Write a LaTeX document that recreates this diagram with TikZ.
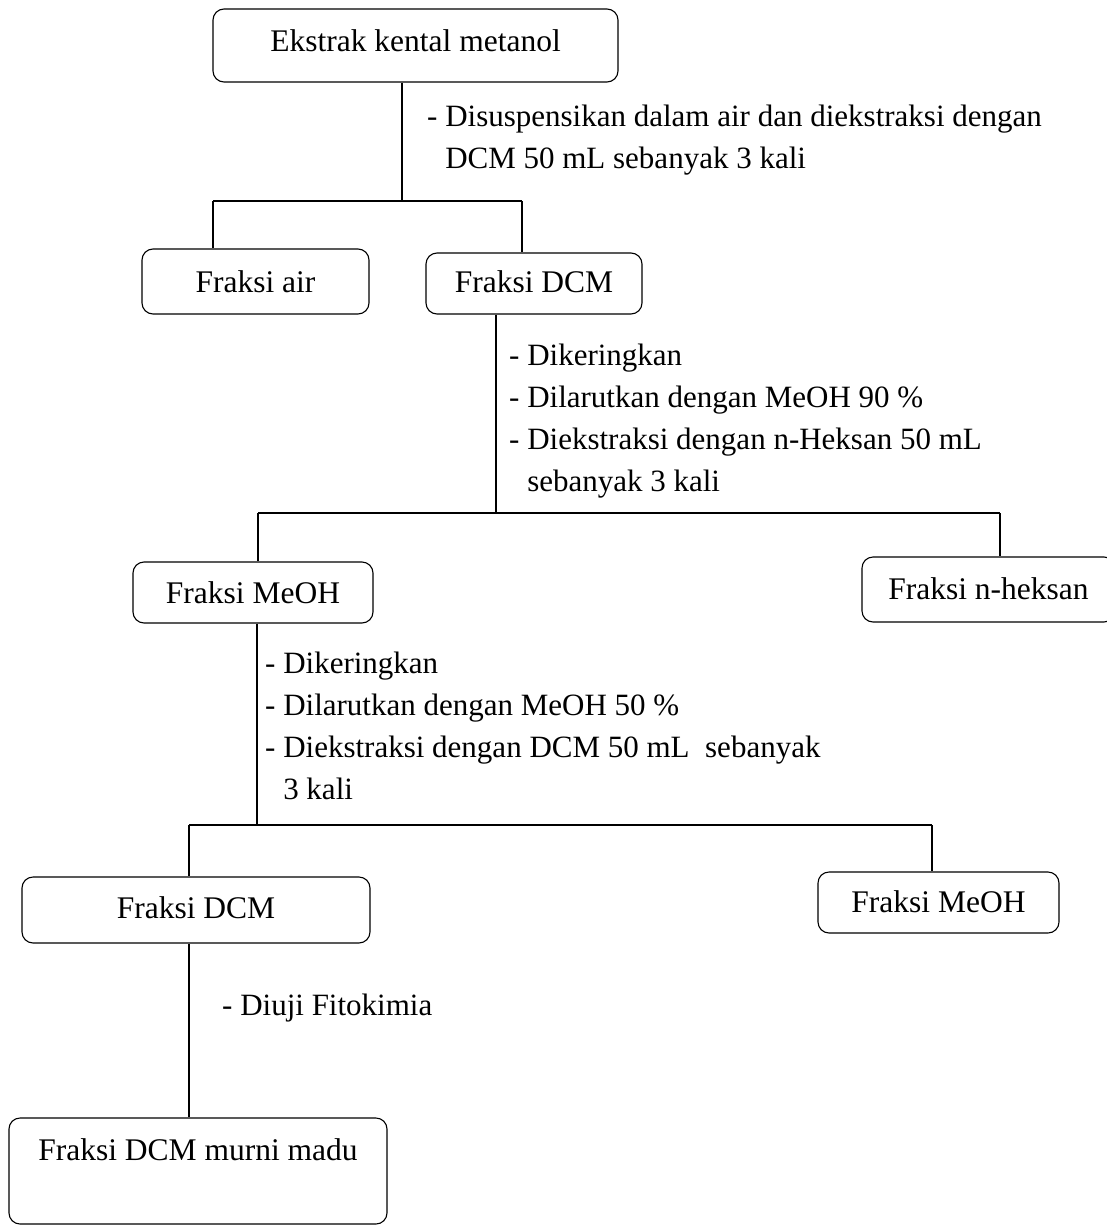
\documentclass[tikz,border=0pt]{standalone}
\usepackage{fontspec}
\setmainfont{Liberation Serif}
\begin{document}
\begin{tikzpicture}[x=1pt,y=-1pt,
  box/.style={draw, line width=1.1pt, rounded corners=11pt, inner sep=0pt, font=\fontsize{31.5}{42}\selectfont},
  lbl/.style={anchor=base west, inner sep=0pt, font=\fontsize{31}{42}\selectfont},
  conn/.style={line width=1.3pt}]
\clip (0,0) rectangle (1107,1226);
% boxes
\node[box, minimum width=405pt, minimum height=73pt, text height=11pt, text depth=0pt] (ekstrak) at (415.5,45.5) {Ekstrak kental metanol};
\node[box, minimum width=227pt, minimum height=65pt, text height=21pt, text depth=0pt] (air) at (255.5,281.5) {Fraksi air};
\node[box, minimum width=216pt, minimum height=61pt, text height=17pt, text depth=0pt] (dcmA) at (534,283.5) {Fraksi DCM};
\node[box, minimum width=240pt, minimum height=61pt, text height=21pt, text depth=0pt] (meohA) at (253,592.5) {Fraksi MeOH};
\node[box, minimum width=253pt, minimum height=65pt, text height=19pt, text depth=0pt] (heks) at (988.5,589.5) {Fraksi n-heksan};
\node[box, minimum width=348pt, minimum height=66pt, text height=16pt, text depth=0pt] (dcmB) at (196,910) {Fraksi DCM};
\node[box, minimum width=241pt, minimum height=61pt, text height=19pt, text depth=0pt] (meohB) at (938.5,902.5) {Fraksi MeOH};
\node[box, minimum width=378pt, minimum height=106pt, text height=21pt, text depth=43pt] (murni) at (198,1171) {Fraksi DCM murni madu};
% labels
\node[lbl] (lA) at (427,126) {\begin{tabular}[t]{@{}l@{}}- Disuspensikan dalam air dan diekstraksi dengan\\ \hphantom{- }DCM 50 mL sebanyak 3 kali\end{tabular}};
\node[lbl] (lB) at (509,365) {\begin{tabular}[t]{@{}l@{}}- Dikeringkan\\ - Dilarutkan dengan MeOH 90 \%\\ - Diekstraksi dengan n-Heksan 50 mL\\ \hphantom{- }sebanyak 3 kali\end{tabular}};
\node[lbl] (lC) at (265,673) {\begin{tabular}[t]{@{}l@{}}- Dikeringkan\\ - Dilarutkan dengan MeOH 50 \%\\ - Diekstraksi dengan DCM 50 mL~ sebanyak\\ \hphantom{- }3 kali\end{tabular}};
\node[lbl] (lD) at (222,1015) {- Diuji Fitokimia};
% connectors
\coordinate (j1) at (402,201);
\coordinate (j1l) at (213,201);
\coordinate (j1r) at (522,201);
\draw[conn] (ekstrak.south -| j1) -- (j1);
\draw[conn] (j1l) -- (j1r);
\draw[conn] (j1l) -- (j1l |- air.north);
\draw[conn] (j1r) -- (j1r |- dcmA.north);
\coordinate (j2) at (496,513);
\coordinate (j2l) at (258,513);
\coordinate (j2r) at (1000,513);
\draw[conn] (dcmA.south -| j2) -- (j2);
\draw[conn] (j2l) -- (j2r);
\draw[conn] (j2l) -- (j2l |- meohA.north);
\draw[conn] (j2r) -- (j2r |- heks.north);
\coordinate (j3) at (257,825);
\coordinate (j3l) at (189,825);
\coordinate (j3r) at (932,825);
\draw[conn] (meohA.south -| j3) -- (j3);
\draw[conn] (j3l) -- (j3r);
\draw[conn] (j3l) -- (j3l |- dcmB.north);
\draw[conn] (j3r) -- (j3r |- meohB.north);
\draw[conn] (dcmB.south -| j3l) -- (j3l |- murni.north);
\end{tikzpicture}
\end{document}
